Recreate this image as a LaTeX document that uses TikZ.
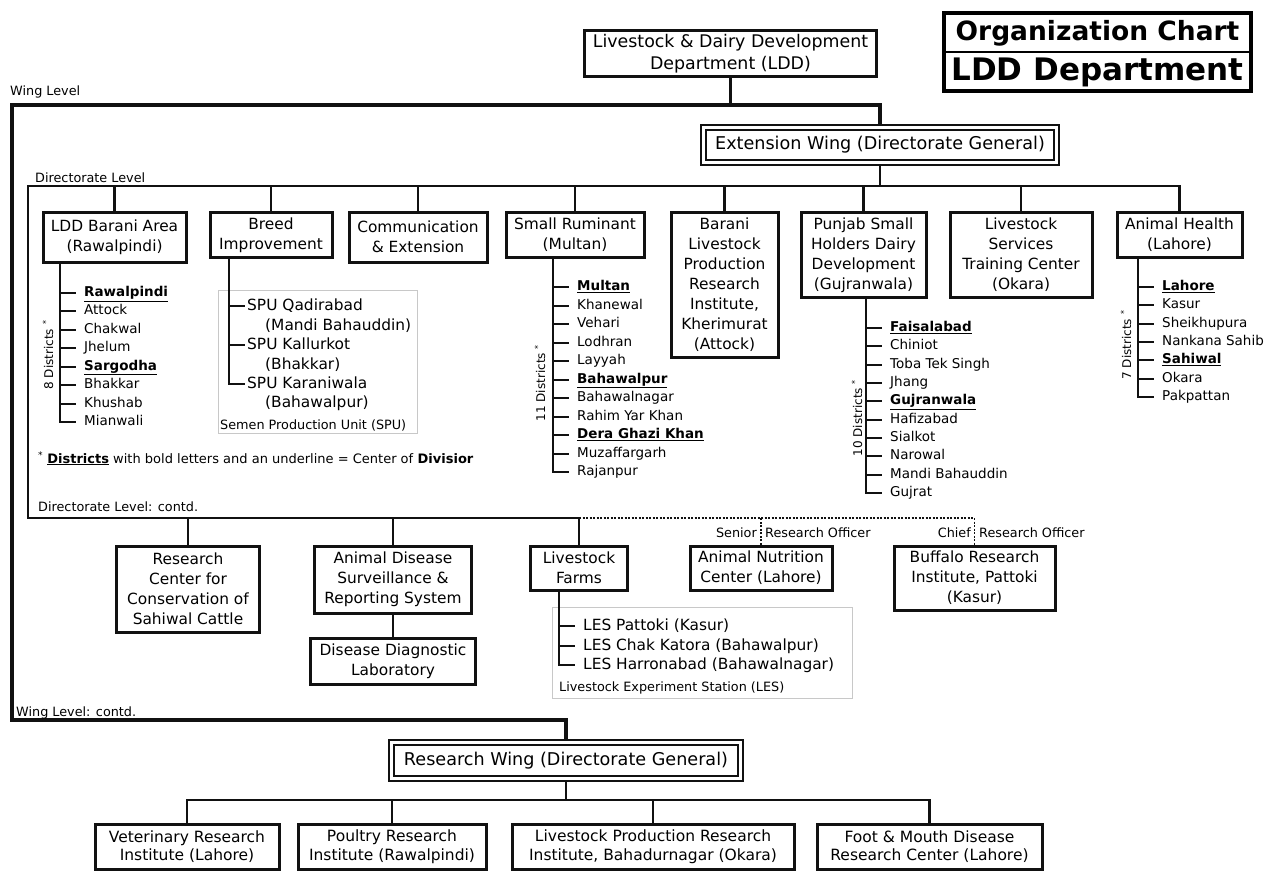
\documentclass[tikz,border=0pt]{standalone}
\usepackage{fontspec}
\setmainfont{DejaVu Sans}
\newfontfamily\chartfont{DejaVu Sans}
\usepackage{tikz}
\usetikzlibrary{positioning, calc, backgrounds}

\definecolor{LDDInk}{RGB}{17, 17, 17}
\definecolor{LDDGroup}{RGB}{200, 200, 200}

\newcommand{\hq}[1]{\underline{\textbf{#1}}}
\newcommand{\boxfont}{\fontsize{15.4}{20}\selectfont}

\tikzset{
  unit/.style={draw=LDDInk, fill=white, line width=3pt, align=center, inner sep=0pt, font=\boxfont},
  wingbox/.style={draw=LDDInk, fill=white, double=white, double distance=2.8pt, line width=2.2pt,
                  align=center, font=\fontsize{17.6}{21}\selectfont},
  resunit/.style={unit, font=\fontsize{15.5}{18.5}\selectfont},
  wingline/.style={draw=LDDInk, line width=3.2pt},
  dirline/.style={draw=LDDInk, line width=2.2pt},
  dashline/.style={draw=LDDInk, line width=1.4pt, dash pattern=on 2pt off 1.5pt},
  subline/.style={draw=LDDInk, line width=2pt},
  group/.style={draw=LDDGroup, line width=1pt},
  district/.style={anchor=west, inner xsep=8pt, inner ysep=0pt, text height=9.5pt, text depth=2.5pt,
                   font=\fontsize{13.5}{16}\selectfont},
  spu/.style={anchor=west, inner xsep=2pt, inner ysep=0pt, text height=11pt, text depth=3pt,
              font=\fontsize{15.4}{19}\selectfont},
  count/.style={rotate=90, inner sep=0pt, font=\fontsize{12}{14}\selectfont},
  lvl/.style={anchor=base west, inner sep=0pt, font=\fontsize{12.8}{15}\selectfont},
}

\begin{document}
\begin{tikzpicture}[x=1pt, y=-1pt]
  \useasboundingbox (0,0) rectangle (1274,872);

  % title block
  \node[inner sep=0pt, font=\chartfont\bfseries\fontsize{26.5}{28}\selectfont] (ttl1) at (1097.5,33) {Organization Chart};
  \node[inner sep=0pt, font=\chartfont\bfseries\fontsize{31}{32}\selectfont] (ttl2) at (1097.5,72) {LDD Department};
  \draw[line width=3.6pt] (944,13) rectangle (1251,91);
  \draw[line width=2.2pt] (944,52) -- (1251,52);

  % department and wings
  \node[unit, font=\fontsize{17.4}{22}\selectfont, minimum width=292pt, minimum height=46pt] (ldd) at (730.5,54)
    {Livestock \& Dairy Development\\Department (LDD)};
  \node[wingbox, minimum width=353pt, minimum height=35pt] (extw) at (880,145) {Extension Wing (Directorate General)};
  \node[wingbox, minimum width=349pt, minimum height=36pt] (rsw) at (566,760.5) {Research Wing (Directorate General)};

  % directorate level
  \node[unit, minimum width=143pt, minimum height=50pt] (barani) at (114.5,237) {LDD Barani Area\\(Rawalpindi)};
  \node[unit, minimum width=122pt, minimum height=45pt] (breed) at (271,235) {Breed\\Improvement};
  \node[unit, minimum width=138pt, minimum height=50pt] (comm) at (418,237) {Communication\\\& Extension};
  \node[unit, minimum width=138pt, minimum height=45pt] (rum) at (575,235) {Small Ruminant\\(Multan)};
  \node[unit, minimum width=107pt, minimum height=145pt] (blpri) at (724.5,285)
    {Barani\\Livestock\\Production\\Research\\Institute,\\Kherimurat\\(Attock)};
  \node[unit, minimum width=125pt, minimum height=85pt] (psh) at (863.5,255)
    {Punjab Small\\Holders Dairy\\Development\\(Gujranwala)};
  \node[unit, minimum width=142pt, minimum height=85pt] (lstc) at (1021,255)
    {Livestock\\Services\\Training Center\\(Okara)};
  \node[unit, minimum width=125pt, minimum height=45pt] (anh) at (1179.5,235) {Animal Health\\(Lahore)};

  % directorate level: contd.
  \node[unit, minimum width=143pt, minimum height=86pt] (rccsc) at (188,589)
    {Research\\Center for\\Conservation of\\Sahiwal Cattle};
  \node[unit, minimum width=157pt, minimum height=67pt] (adsrs) at (393,579.5)
    {Animal Disease\\Surveillance \&\\Reporting System};
  \node[unit, minimum width=165pt, minimum height=46pt] (ddl) at (393,661) {Disease Diagnostic\\Laboratory};
  \node[unit, minimum width=97pt, minimum height=44pt] (lfarm) at (579,568) {Livestock\\Farms};
  \node[unit, minimum width=142pt, minimum height=44pt] (anc) at (761,568) {Animal Nutrition\\Center (Lahore)};
  \node[unit, minimum width=161pt, minimum height=64pt] (bri) at (974.5,578)
    {Buffalo Research\\Institute, Pattoki\\(Kasur)};

  % research wing institutes
  \node[resunit, minimum width=184pt, minimum height=45pt] (vri) at (187,846.5) {Veterinary Research\\Institute (Lahore)};
  \node[resunit, minimum width=188pt, minimum height=45pt] (pri) at (392,846.5) {Poultry Research\\Institute (Rawalpindi)};
  \node[resunit, minimum width=282pt, minimum height=45pt] (lpri) at (653,846.5)
    {Livestock Production Research\\Institute, Bahadurnagar (Okara)};
  \node[resunit, minimum width=225pt, minimum height=45pt] (fmd) at (929.5,846.5)
    {Foot \& Mouth Disease\\Research Center (Lahore)};

  % level captions
  \node[lvl] (wlvl) at (10,96) {Wing Level};
  \node[lvl] (dlvl) at (35,182) {Directorate Level};
  \node[lvl] (dlvlc) at (38,511) {Directorate Level: contd.};
  \node[lvl] (wlvlc) at (16,716) {Wing Level: contd.};
  \node[lvl, anchor=base east] (sro) at (757,537) {Senior};
  \node[lvl] (sro2) at (765,537) {Research Officer};
  \node[lvl, anchor=base east] (cro) at (971,537) {Chief};
  \node[lvl] (cro2) at (979,537) {Research Officer};
  \node[lvl, font=\fontsize{13}{15}\selectfont] (note) at (38,463)
    {\textsuperscript{*} \hq{Districts} with bold letters and an underline = Center of \textbf{Divisior}};

  % districts
  \foreach \d [count=\i] in {\hq{Rawalpindi}, Attock, Chakwal, Jhelum, \hq{Sargodha}, Bhakkar, Khushab, Mianwali}
    \node[district] (bar\i) at (76,{293+18.43*(\i-1)}) {\d};
  \foreach \d [count=\i] in {\hq{Multan}, Khanewal, Vehari, Lodhran, Layyah, \hq{Bahawalpur}, Bahawalnagar,
                             Rahim Yar Khan, \hq{Dera Ghazi Khan}, Muzaffargarh, Rajanpur}
    \node[district] (rm\i) at (569,{287+18.5*(\i-1)}) {\d};
  \foreach \d [count=\i] in {\hq{Faisalabad}, Chiniot, Toba Tek Singh, Jhang, \hq{Gujranwala}, Hafizabad,
                             Sialkot, Narowal, Mandi Bahauddin, Gujrat}
    \node[district] (ps\i) at (882,{328+18.33*(\i-1)}) {\d};
  \foreach \d [count=\i] in {\hq{Lahore}, Kasur, Sheikhupura, Nankana Sahib, \hq{Sahiwal}, Okara, Pakpattan}
    \node[district] (ah\i) at (1154,{287+18.33*(\i-1)}) {\d};

  \node[count] (barn) at (48,355) {8 Districts \textsuperscript{*}};
  \node[count] (rmn) at (540,383) {11 Districts \textsuperscript{*}};
  \node[count] (psn) at (857,418) {10 Districts \textsuperscript{*}};
  \node[count] (ahn) at (1126,345) {7 Districts \textsuperscript{*}};

  % semen production units
  \node[spu] (spu1) at (245,306) {SPU Qadirabad};
  \node[spu] (spu1b) at (263,326) {(Mandi Bahauddin)};
  \node[spu] (spu2) at (245,345) {SPU Kallurkot};
  \node[spu] (spu2b) at (263,365) {(Bhakkar)};
  \node[spu] (spu3) at (245,384) {SPU Karaniwala};
  \node[spu] (spu3b) at (263,403) {(Bahawalpur)};
  \node[lvl] (spucap) at (220,429) {Semen Production Unit (SPU)};

  % livestock experiment stations
  \node[district, font=\fontsize{15.4}{19}\selectfont, text height=11pt, text depth=3pt] (les1) at (575,626) {LES Pattoki (Kasur)};
  \node[district, font=\fontsize{15.4}{19}\selectfont, text height=11pt, text depth=3pt] (les2) at (575,646) {LES Chak Katora (Bahawalpur)};
  \node[district, font=\fontsize{15.4}{19}\selectfont, text height=11pt, text depth=3pt] (les3) at (575,665) {LES Harronabad (Bahawalnagar)};
  \node[lvl] (lescap) at (559,691) {Livestock Experiment Station (LES)};

  \begin{scope}[on background layer]
    \fill[white] (0,0) rectangle (1274,872);
    \draw[group] (218,290) rectangle (417,433);
    \draw[group] (552,607) rectangle (852,698);

    \coordinate (wl) at (12,105);
    \coordinate (wlc) at (12,720);
    \coordinate (dtl) at (28,186);
    \coordinate (dbl) at (28,518);
    \coordinate (rbar) at (0,800);

    % wing level
    \draw[wingline] (ldd.south) -- (ldd.south |- wl);
    \draw[wingline] (extw.north) |- (wl) -- (wlc) -| (rsw.north);

    % directorate level
    \draw[dirline] (extw.south) -- (extw.south |- dtl);
    \draw[dirline] (anh.north) |- (dtl) -- (dbl) -| (lfarm.north);
    \foreach \n in {barani, breed, comm, rum, blpri, psh, lstc}
      \draw[dirline] (\n.north) -- (\n.north |- dtl);
    \foreach \n in {rccsc, adsrs}
      \draw[dirline] (\n.north) -- (\n.north |- dbl);
    \draw[dirline] (adsrs.south) -- (ddl.north);
    \draw[dashline] (lfarm.north |- dbl) -| (bri.north);
    \draw[dashline] (anc.north) -- (anc.north |- dbl);

    % research wing
    \draw[dirline] (rsw.south) -- (rsw.south |- rbar);
    \draw[dirline] (vri.north) |- (fmd.north |- rbar) -- (fmd.north);
    \foreach \n in {pri, lpri}
      \draw[dirline] (\n.north) -- (\n.north |- rbar);

    % district spines
    \coordinate (barsp) at (60,0);
    \coordinate (rmsp) at (553,0);
    \coordinate (pssp) at (866,0);
    \coordinate (ahsp) at (1138,0);
    \coordinate (spusp) at (229,0);
    \coordinate (lessp) at (559,0);
    \draw[subline] (barani.south -| barsp) |- (bar8.west);
    \foreach \i in {1,...,7} \draw[subline] (barsp |- bar\i.west) -- (bar\i.west);
    \draw[subline] (rum.south -| rmsp) |- (rm11.west);
    \foreach \i in {1,...,10} \draw[subline] (rmsp |- rm\i.west) -- (rm\i.west);
    \draw[subline] (psh.south -| pssp) |- (ps10.west);
    \foreach \i in {1,...,9} \draw[subline] (pssp |- ps\i.west) -- (ps\i.west);
    \draw[subline] (anh.south -| ahsp) |- (ah7.west);
    \foreach \i in {1,...,6} \draw[subline] (ahsp |- ah\i.west) -- (ah\i.west);
    \draw[subline] (breed.south -| spusp) |- (spu3.west);
    \foreach \i in {1,2} \draw[subline] (spusp |- spu\i.west) -- (spu\i.west);
    \draw[subline] (lfarm.south -| lessp) |- (les3.west);
    \foreach \i in {1,2} \draw[subline] (lessp |- les\i.west) -- (les\i.west);
  \end{scope}
\end{tikzpicture}
\end{document}
